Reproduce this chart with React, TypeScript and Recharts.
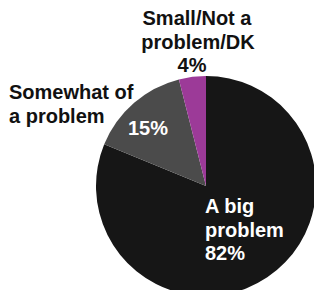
import React from "react";
import { PieChart, Pie, Cell } from "recharts";

const categories = ["A big problem", "Somewhat of a problem", "Small/Not a problem/DK"];
const values = [82, 15, 4];
const colors = ["#161616", "#4b4b4b", "#9c3a98"];
const labelLines = [
  ["A big", "problem", "82%"],
  ["15%"],
  ["Small/Not a", "problem/DK", "4%"],
];
const sideLabel = ["Somewhat of", "a problem"];

// label layout relative to pie centre
const labelLayout = [
  { dx: [-1, -1, -1], dy: 27, anchor: "start", fill: "#ffffff", lh: 23.5 },
  { dx: [-78], dy: -51, anchor: "start", fill: "#ffffff", lh: 23.5 },
  { dx: [-9, -8, -14], dy: -161, anchor: "middle", fill: "#111111", lh: 23.5 },
];

const data = categories.map((name, i) => ({ name, value: values[i] }));

const FONT = "'Liberation Sans', Arial, Helvetica, sans-serif";

const renderLabel = (props: any) => {
  const { cx, cy, index } = props;
  const lay = labelLayout[index];
  const lines = labelLines[index];
  const nodes = lines.map((t, k) => (
    <text
      key={k}
      x={cx + lay.dx[k]}
      y={cy + lay.dy + k * lay.lh}
      textAnchor={lay.anchor}
      fill={lay.fill}
      fontFamily={FONT}
      fontWeight="bold"
      fontSize={20}
    >
      {t}
    </text>
  ));
  if (index === 1) {
    sideLabel.forEach((t, k) =>
      nodes.push(
        <text
          key={"s" + k}
          x={cx - 197}
          y={cy - 87 + k * 23.5}
          textAnchor="start"
          fill="#111111"
          fontFamily={FONT}
          fontWeight="bold"
          fontSize={20}
        >
          {t}
        </text>
      )
    );
  }
  return <g>{nodes}</g>;
};

export default function App() {
  return (
    <div style={{ position: "absolute", left: 0, top: 0, width: 314, height: 290, background: "#fff", overflow: "hidden" }}>
      <PieChart width={314} height={290} margin={{ top: 0, right: 0, bottom: 0, left: 0 }}>
        <Pie
          data={data}
          dataKey="value"
          nameKey="name"
          cx={206}
          cy={186}
          outerRadius={110}
          startAngle={90}
          endAngle={-270}
          stroke="none"
          label={renderLabel}
          labelLine={false}
          isAnimationActive={false}
        >
          {data.map((d, i) => (
            <Cell key={d.name} fill={colors[i]} />
          ))}
        </Pie>
      </PieChart>
    </div>
  );
}
